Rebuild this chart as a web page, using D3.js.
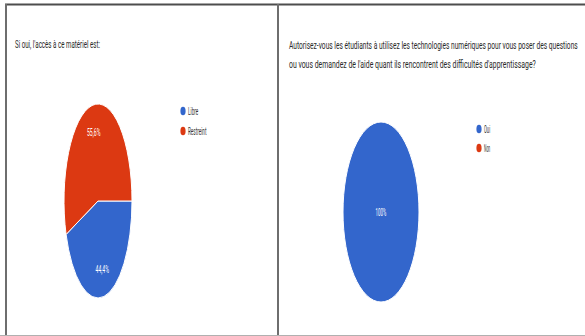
<!DOCTYPE html>
<html>
<head>
<meta charset="utf-8">
<script src="https://cdn.jsdelivr.net/npm/d3@7"></script>
<style>
  html, body { margin: 0; padding: 0; background: #fff; }
  svg { display: block; }
  text { font-family: Roboto, "Liberation Sans", Arial, sans-serif; }
</style>
</head>
<body>
<svg id="chart" width="585" height="336"></svg>
<script>
// Survey answers, in percent
const accessCategories = ["Libre", "Restreint"];
const accessValues = [44.4, 55.6];
const accessTitle = ["Si oui, l'accès à ce matériel est:"];

const helpCategories = ["Oui", "Non"];
const helpValues = [100, 0];
const helpTitle = [
  "Autorisez-vous les étudiants à utilisez les technologies numériques pour vous poser des questions",
  "ou vous demandez de l'aide quant ils rencontrent des difficultés d'apprentissage?"
];

const palette = ["#3366cc", "#dc3912"];

const svg = d3.select("#chart");

// Panel frame
const frame = svg.append("g");
frame.append("line").attr("x1", 5).attr("x2", 585).attr("y1", 4.5).attr("y2", 4.5)
  .attr("stroke", "#4d4d4d").attr("stroke-width", 2);
frame.append("line").attr("x1", 6).attr("x2", 6).attr("y1", 4).attr("y2", 336)
  .attr("stroke", "#6e6e6e").attr("stroke-width", 2);
frame.append("line").attr("x1", 278).attr("x2", 278).attr("y1", 4).attr("y2", 336)
  .attr("stroke", "#6e6e6e").attr("stroke-width", 2);
frame.append("line").attr("x1", 0).attr("x2", 585).attr("y1", 335.5).attr("y2", 335.5)
  .attr("stroke", "#b0b0b0").attr("stroke-width", 1);

const fmtPct = v => (Number.isInteger(v) ? String(v) : v.toFixed(1).replace(".", ",")) + "%";

// Text squeezed horizontally to a given width (the layout is narrow)
function condensedText(g, str, x, y, width, size, fill, anchor) {
  const t = g.append("text")
    .attr("x", 0).attr("y", 0)
    .attr("font-size", size)
    .attr("fill", fill)
    .text(str);
  const natural = t.node().getComputedTextLength() || 1;
  const sx = width / natural;
  const x0 = anchor === "middle" ? x - width / 2 : x;
  t.attr("transform", `translate(${x0},${y}) scale(${sx},1)`);
  return t;
}

function drawPanel(opts) {
  const g = svg.append("g");

  // Title lines
  opts.title.forEach((line, i) => {
    condensedText(g, line, opts.titleX, opts.titleY + i * 19.5, opts.titleWidths[i], 11.5, "#2a2a2a");
  });

  // Pie drawn on a unit radius, stretched into the panel's ellipse
  const R = 100;
  const pie = d3.pie().sort(null).startAngle(Math.PI / 2).endAngle(Math.PI / 2 + 2 * Math.PI);
  const arcs = pie(opts.values);
  const arc = d3.arc().innerRadius(0).outerRadius(R);
  const labelArc = d3.arc().innerRadius(R * 0.72).outerRadius(R * 0.72);

  const pieG = g.append("g")
    .attr("transform", `translate(${opts.cx},${opts.cy}) scale(${opts.rx / R},${opts.ry / R})`);

  pieG.selectAll("path")
    .data(arcs.filter(d => d.value > 0))
    .join("path")
    .attr("d", arc)
    .attr("fill", d => palette[d.index])
    .attr("stroke", "#ffffff")
    .attr("stroke-width", 1)
    .attr("vector-effect", "non-scaling-stroke");

  // Value labels
  arcs.filter(d => d.value > 0).forEach(d => {
    const full = d.endAngle - d.startAngle >= 2 * Math.PI - 1e-6;
    const [ux, uy] = full ? [0, 0] : labelArc.centroid(d);
    const lx = opts.cx + ux * opts.rx / R;
    const ly = opts.cy + uy * opts.ry / R;
    const label = fmtPct(d.value);
    condensedText(g, label, lx, ly + 3.5, label.length * 2.7, 10, "#ffffff", "middle");
  });

  // Legend
  const leg = g.append("g").attr("transform", `translate(${opts.legendX},${opts.legendY})`);
  opts.categories.forEach((c, i) => {
    const row = leg.append("g").attr("transform", `translate(0,${i * opts.legendStep})`);
    row.append("ellipse").attr("cx", 0).attr("cy", 0).attr("rx", 2.6).attr("ry", 4.3)
      .attr("fill", palette[i]);
    condensedText(row, c, 5, 3.5, c.length * 2.05, 10, "#333");
  });
}

drawPanel({
  title: accessTitle, titleX: 15, titleY: 48, titleWidths: [85],
  values: accessValues, categories: accessCategories,
  cx: 98, cy: 201, rx: 34, ry: 97,
  legendX: 183, legendY: 111, legendStep: 20
});

drawPanel({
  title: helpTitle, titleX: 289, titleY: 48.5, titleWidths: [289, 247],
  values: helpValues, categories: helpCategories,
  cx: 381, cy: 212, rx: 38, ry: 90,
  legendX: 479, legendY: 129, legendStep: 19
});
</script>
</body>
</html>
